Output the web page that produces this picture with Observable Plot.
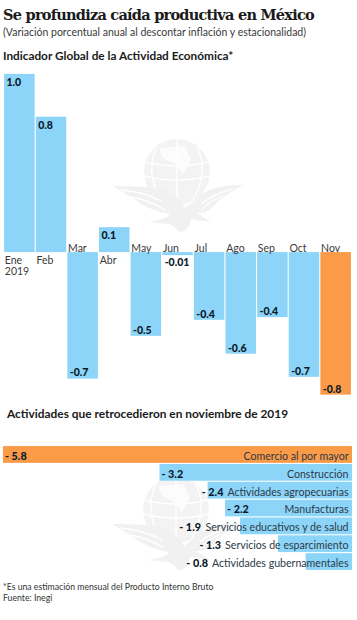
<!DOCTYPE html>
<html lang="es">
<head>
<meta charset="utf-8">
<script src="https://cdn.jsdelivr.net/npm/d3@7"></script>
<script src="https://cdn.jsdelivr.net/npm/@observablehq/plot@0.6"></script>
<style>
  html,body{margin:0;padding:0;background:#fff;}
  #page{position:relative;width:357px;height:620px;overflow:hidden;font-family:Lato,sans-serif;color:#1c1c1c;}
  #page>div{position:absolute;white-space:nowrap;}
  #page svg{background:transparent;display:block;}
  .mark{position:absolute;left:0;top:0;}
  #title{left:3px;top:6px;font:bold 14.5px/18px "DejaVu Serif",serif;letter-spacing:-.75px;color:#1a1a1a;}
  #sub{left:3px;top:25px;font:10.5px/14px Lato,sans-serif;color:#3a3a3a;}
  #h1{left:3px;top:48px;font:bold 11.8px/15px Lato,sans-serif;color:#1a1a1a;}
  #h2{left:7px;top:406px;font:bold 11.9px/15px Lato,sans-serif;color:#1a1a1a;}
  #note{left:3px;top:581px;font:8.7px/11px Lato,sans-serif;color:#333;}
</style>
</head>
<body>
<div id="page">
  <svg class="mark" width="357" height="620" viewBox="0 0 357 620" aria-hidden="true">
    <defs>
      <g id="aguila">
        <circle cx="0" cy="0" r="33" fill="#f3f3f3"/>
        <path d="M-31,-10 Q0,-2 31,-10 M-33,4 Q0,12 33,4 M-20,-26 Q-32,0 -16,28 M20,-26 Q32,0 16,28 M0,-33 L0,33" fill="none" stroke="#fff" stroke-width="1.4"/>
        <path d="M-18,-24 L8,-26 L14,-12 L6,2 L-2,-8 L-14,-14 Z" fill="#fff" opacity=".75"/>
        <path d="M-64,14 Q-30,14 -16,17 Q0,22 8,36 Q14,32 24,22 Q42,12 66,13 Q50,22 40,30 Q32,42 20,41 L34,50 L14,47 Q12,60 2,60 Q-2,54 -8,52 L-28,50 Q-6,46 -8,42 Q-30,38 -44,26 Z" fill="#f1f1f1"/>
        <path d="M-56,18 Q-32,20 -14,30 M-46,25 Q-28,28 -12,38 M56,17 Q36,22 24,32 M46,24 Q34,28 24,38" fill="none" stroke="#fff" stroke-width="1.3"/>
      </g>
    </defs>
    <use href="#aguila" x="177" y="172"/>
    <use href="#aguila" x="176" y="510"/>
  </svg>
  <div id="title">Se profundiza caída productiva en México</div>
  <div id="sub">(Variación porcentual anual al descontar inflación y estacionalidad)</div>
  <div id="h1">Indicador Global de la Actividad Económica*</div>
  <div id="top" style="left:0;top:65px"></div>
  <div id="h2">Actividades que retrocedieron en noviembre de 2019</div>
  <div id="bottom" style="left:0;top:440px"></div>
  <div id="note">*Es una estimación mensual del Producto Interno Bruto<br>Fuente: Inegi</div>
</div>
<script>
// Indicador global: bar lengths as drawn, and the printed labels
const meses = ["Ene\n2019","Feb","Mar","Abr","May","Jun","Jul","Ago","Sep","Oct","Nov"];
const alturas = [1.0,0.76,-0.71,0.14,-0.47,-0.017,-0.38,-0.57,-0.365,-0.70,-0.80];
const etiquetas = ["1.0","0.8","-0.7","0.1","-0.5","-0.01","-0.4","-0.6","-0.4","-0.7","-0.8"];
// Actividades
const actividades = ["Comercio al por mayor","Construcción","Actividades agropecuarias","Manufacturas","Servicios educativos y de salud","Servicios de esparcimiento","Actividades gubernamentales"];
const caidas = [5.8,3.2,2.4,2.11,1.86,1.23,0.77];
const etiquetasCaida = ["- 5.8","- 3.2","- 2.4","- 2.2","- 1.9","- 1.3","- 0.8"];

const AZUL = "#8dd5f8", NARANJA = "#fb9a47", TINTA = "#0b1a2b", GRIS = "#3a3a3a";

const mensual = meses.map((mes,i)=>({mes,valor:alturas[i],etiqueta:etiquetas[i],resaltado:mes==="Nov"}));
const W = 357, topH = 335, bw = 349/11;
const lab = {x:"mes",y:"valor",text:"etiqueta",textAnchor:"start",dx:-bw/2+2.5,fontSize:10.5,fontWeight:900,fill:TINTA,fontFamily:"Lato"};
const topPlot = Plot.plot({
  width:W, height:topH, margin:0,
  style:{background:"transparent",overflow:"visible"},
  x:{type:"band",domain:meses,range:[3,352],padding:0.035,round:false,axis:null},
  y:{domain:[-0.83,1.05],range:[topH,0],axis:null},
  marks:[
    Plot.barY(mensual,{x:"mes",y:"valor",fill:d=>d.resaltado?NARANJA:AZUL}),
    // month labels sit on the free side of the baseline
    Plot.text(mensual.filter(d=>d.valor>0),{x:"mes",y:0,text:"mes",textAnchor:"start",lineAnchor:"top",dx:-bw/2+0.8,dy:3,fontSize:10.5,lineHeight:1.1,fill:GRIS,fontFamily:"Lato"}),
    Plot.text(mensual.filter(d=>d.valor<=0),{x:"mes",y:0,text:"mes",textAnchor:"start",lineAnchor:"bottom",dx:-bw/2+0.8,dy:-1,fontSize:10.5,fill:GRIS,fontFamily:"Lato"}),
    // value labels inside the bar end (outside for the tiniest one)
    Plot.text(mensual.filter(d=>d.valor>0),{...lab,dy:8}),
    Plot.text(mensual.filter(d=>d.valor<=-0.05),{...lab,dy:-6}),
    Plot.text(mensual.filter(d=>d.valor<0&&d.valor>-0.05),{...lab,dy:7})
  ]
});
document.getElementById("top").append(topPlot);

const cv = document.createElement("canvas").getContext("2d");
const ancho = (s,font)=>{cv.font=font;return cv.measureText(s).width;};
const FS = 10.6;
const filas = actividades.map((a,i)=>({a,v:caidas[i],e:etiquetasCaida[i],resaltado:i===0}));
const anchoPx = 349/5.8;
filas.forEach(d=>{
  d.cat=ancho(d.a,`${FS}px Lato`);
  d.fuera=(d.v*anchoPx)<d.cat+34;
});
const botH = 135;
const botPlot = Plot.plot({
  width:W, height:botH, margin:0,
  style:{background:"transparent",overflow:"visible"},
  x:{domain:[0,5.8],range:[352,3],axis:null},
  y:{type:"band",domain:actividades,range:[5,131],padding:0.06,round:false,axis:null},
  marks:[
    Plot.barX(filas,{x1:0,x2:"v",y:"a",fill:d=>d.resaltado?NARANJA:AZUL}),
    Plot.text(filas,{x:0,y:"a",text:"a",textAnchor:"end",dx:-4,dy:1.5,fontSize:FS,fill:"#2c3a47",fontFamily:"Lato"}),
    Plot.text(filas.filter(d=>!d.fuera),{x:"v",y:"a",text:"e",textAnchor:"start",dx:1.5,dy:1.5,fontSize:10.8,fontWeight:900,fill:TINTA,fontFamily:"Lato"}),
    ...filas.filter(d=>d.fuera).map(d=>Plot.text([d],{x:0,y:"a",text:"e",textAnchor:"end",dx:-4-d.cat-4,dy:1.5,fontSize:10.8,fontWeight:900,fill:TINTA,fontFamily:"Lato"}))
  ]
});
document.getElementById("bottom").append(botPlot);
</script>
</body>
</html>
